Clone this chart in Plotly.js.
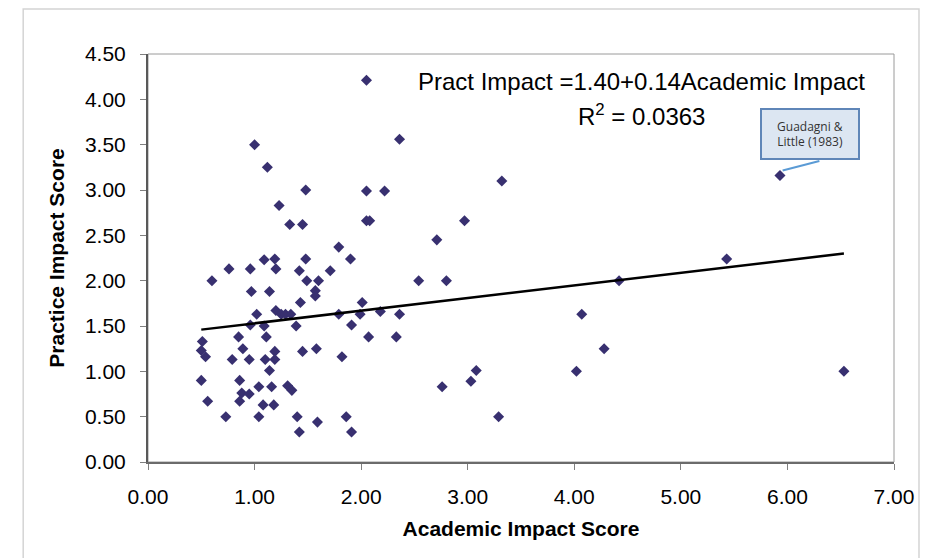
<!DOCTYPE html>
<html>
<head>
<meta charset="utf-8">
<script src="https://cdn.plot.ly/plotly-3.0.1.min.js"></script>
<style>
html,body{margin:0;padding:0;background:#fff;}
#chart{width:937px;height:558px;}
</style>
</head>
<body>
<div id="chart"></div>
<script>
// Academic impact (x) and practice impact (y) per study
const academicImpact = [
  1.00, 1.12, 1.48, 1.23, 1.33, 1.45, 1.79, 1.09, 1.19, 1.48,
  0.76, 0.96, 1.20, 1.42, 1.71, 0.60, 1.49, 1.60, 0.97, 1.14,
  1.57, 1.57, 1.43, 1.02, 1.20, 1.25, 1.29, 1.34, 0.96, 1.09,
  1.39, 0.51, 0.85, 1.11, 0.50, 0.54, 0.89, 1.19, 1.45, 1.58,
  1.82, 0.79, 0.95, 1.10, 1.19, 1.14, 0.50, 0.86, 1.04, 1.16,
  1.31, 1.35, 0.88, 0.95, 0.86, 0.56, 1.08, 1.18, 0.73, 1.04,
  1.40, 1.59, 1.42, 2.05, 2.36, 3.32, 2.05, 2.22, 2.05, 2.08,
  2.97, 2.71, 1.90, 2.54, 2.80, 2.01, 1.79, 1.99, 2.18, 2.36,
  1.91, 2.07, 2.33, 3.08, 3.03, 2.76, 1.86, 1.91, 3.29, 4.07,
  4.02, 5.93, 5.43, 4.42, 4.28, 6.53
];
const practiceImpact = [
  3.50, 3.25, 3.00, 2.83, 2.62, 2.62, 2.37, 2.23, 2.24, 2.24,
  2.13, 2.13, 2.13, 2.11, 2.11, 2.00, 2.00, 2.00, 1.88, 1.88,
  1.89, 1.83, 1.76, 1.63, 1.67, 1.63, 1.63, 1.63, 1.51, 1.50,
  1.50, 1.33, 1.38, 1.38, 1.23, 1.16, 1.25, 1.22, 1.22, 1.25,
  1.16, 1.13, 1.13, 1.13, 1.13, 1.01, 0.90, 0.90, 0.83, 0.83,
  0.84, 0.79, 0.76, 0.75, 0.67, 0.67, 0.63, 0.63, 0.50, 0.50,
  0.50, 0.44, 0.33, 4.21, 3.56, 3.10, 2.99, 2.99, 2.66, 2.66,
  2.66, 2.45, 2.24, 2.00, 2.00, 1.76, 1.63, 1.63, 1.66, 1.63,
  1.51, 1.38, 1.38, 1.01, 0.89, 0.83, 0.50, 0.33, 0.50, 1.63,
  1.00, 3.16, 2.24, 2.00, 1.25, 1.00
];
// Linear trend line end points as drawn
const trendX = [0.50, 6.53];
const trendY = [1.46, 2.30];

const xTicks = [0, 1, 2, 3, 4, 5, 6, 7];
const yTicks = [0, 0.5, 1, 1.5, 2, 2.5, 3, 3.5, 4, 4.5];

const FONT = 'Liberation Sans, Arial, Helvetica, sans-serif';

const traces = [
  {
    type: 'scatter', mode: 'markers',
    x: academicImpact, y: practiceImpact,
    marker: {symbol: 'diamond', size: 8.5, color: '#383070'},
    hoverinfo: 'x+y', showlegend: false, cliponaxis: false
  },
  {
    type: 'scatter', mode: 'lines',
    x: trendX, y: trendY,
    line: {color: '#000000', width: 2.5},
    hoverinfo: 'skip', showlegend: false
  }
];

const layout = {
  width: 937, height: 558,
  margin: {l: 148, r: 43, t: 54, b: 96},
  paper_bgcolor: '#ffffff', plot_bgcolor: '#ffffff',
  font: {family: FONT, color: '#000000', size: 20},
  showlegend: false,
  xaxis: {
    range: [0, 7], tickvals: xTicks, tickformat: '.2f',
    ticks: 'outside', ticklen: 6, tickcolor: '#808080', tickwidth: 1,
    showline: true, linecolor: '#6b6b6b', linewidth: 2,
    showgrid: false, zeroline: false, fixedrange: true,
    tickfont: {family: FONT, size: 21, color: '#000000'},
    ticklabelstandoff: 9,
    title: {text: 'Academic Impact Score', font: {family: FONT, size: 21, color: '#000000', weight: 'bold'}, standoff: 14}
  },
  yaxis: {
    range: [0, 4.5], tickvals: yTicks, tickformat: '.2f',
    ticks: 'outside', ticklen: 6, tickcolor: '#808080', tickwidth: 1,
    showline: true, linecolor: '#595959', linewidth: 2,
    showgrid: false, zeroline: false, fixedrange: true,
    tickfont: {family: FONT, size: 21, color: '#000000'},
    ticklabelstandoff: 10,
    title: {text: 'Practice Impact Score', font: {family: FONT, size: 21, color: '#000000', weight: 'bold'}, standoff: 15}
  },
  shapes: [
    // plot area border
    {type: 'rect', xref: 'paper', yref: 'paper', x0: 0, x1: 1, y0: 0, y1: 1,
     line: {color: '#9a9a9a', width: 1}, layer: 'below'},
    // outer chart frame
    {type: 'rect', xref: 'paper', yref: 'paper', x0: -0.1673, x1: 1.0335, y0: -0.25, y1: 1.110,
     line: {color: '#d4d4d4', width: 1.5}, layer: 'below'},
    // callout connector
    {type: 'line', xref: 'x', yref: 'y', x0: 6.30, y0: 3.32, x1: 5.955, y1: 3.215,
     line: {color: '#5b9bd5', width: 2}}
  ],
  annotations: [
    {xref: 'x', yref: 'y', x: 4.63, y: 4.20, showarrow: false,
     text: 'Pract Impact =1.40+0.14Academic Impact',
     font: {family: FONT, size: 24, color: '#000000'}},
    {xref: 'x', yref: 'y', x: 4.63, y: 3.83, showarrow: false,
     text: 'R<sup>2</sup> = 0.0363',
     font: {family: FONT, size: 24, color: '#000000'}},
    {xref: 'x', yref: 'y', x: 6.21, y: 3.62, showarrow: false,
     text: 'Guadagni &amp;<br>Little (1983)',
     width: 96, height: 48, align: 'center', valign: 'middle',
     bgcolor: '#dce6f2', bordercolor: '#5f86b8', borderwidth: 2, borderpad: 0,
     font: {family: 'Open Sans, Noto Sans, sans-serif', size: 12, color: '#333333'}}
  ]
};

Plotly.newPlot('chart', traces, layout, {displayModeBar: false, staticPlot: true});
</script>
</body>
</html>
